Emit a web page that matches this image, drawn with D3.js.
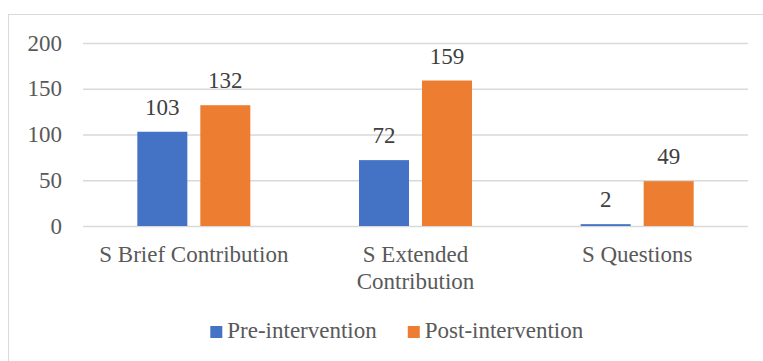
<!DOCTYPE html>
<html>
<head>
<meta charset="utf-8">
<script src="https://cdn.jsdelivr.net/npm/d3@7"></script>
<style>
  body { margin: 0; background: #fff; }
  svg text { fill: #595959; }
</style>
</head>
<body>
<script>
// chart data
const categories = ['S Brief Contribution', 'S Extended Contribution', 'S Questions'];
const seriesNames = ['Pre-intervention', 'Post-intervention'];
const preValues = [103, 72, 2];
const postValues = [132, 159, 49];
const yTicks = [0, 50, 100, 150, 200];
const colors = ['#4472C4', '#ED7D31'];

const width = 763, height = 361;
const plotLeft = 83, plotRight = 748, plotTop = 43, plotBottom = 226;
const fontSize = 23;
const serif = '"Liberation Serif", "Times New Roman", Times, Tinos, "Noto Serif", "Nimbus Roman", FreeSerif, "DejaVu Serif", serif';

const rows = categories.map((c, i) => ({ cat: c, values: [preValues[i], postValues[i]] }));

const svg = d3.select('body').append('svg')
    .attr('width', width)
    .attr('height', height)
    .attr('font-family', serif);

// chart area frame (right and bottom edges run off the picture)
svg.append('rect')
    .attr('x', 8.5).attr('y', 14.5)
    .attr('width', 800).attr('height', 400)
    .attr('fill', '#fff')
    .attr('stroke', '#d9d9d9')
    .attr('stroke-width', 1);

const x0 = d3.scaleBand().domain(categories).range([plotLeft, plotRight]).padding(0);
const groupW = 113;
const x1 = d3.scaleBand().domain(seriesNames)
    .range([(x0.bandwidth() - groupW) / 2, (x0.bandwidth() + groupW) / 2])
    .paddingInner(0.206);
const y = d3.scaleLinear().domain([0, 200]).range([plotBottom, plotTop]);

// gridlines + y labels
const yAxis = svg.append('g')
    .attr('transform', `translate(${plotLeft},0)`)
    .call(d3.axisLeft(y).tickValues(yTicks).tickSize(-(plotRight - plotLeft)).tickPadding(21))
    .attr('font-family', serif)
    .attr('font-size', fontSize);
yAxis.select('.domain').remove();
yAxis.selectAll('.tick line').attr('stroke', '#d9d9d9').attr('stroke-width', 1.5);
yAxis.selectAll('.tick text')
    .attr('dy', null)
    .attr('y', 7)
    .attr('fill', '#595959');

// bars
const groups = svg.append('g').selectAll('g')
    .data(rows)
    .join('g')
    .attr('transform', d => `translate(${x0(d.cat)},0)`);

groups.selectAll('rect')
    .data(d => d.values.map((v, i) => ({ key: seriesNames[i], value: v, i })))
    .join('rect')
    .attr('x', d => x1(d.key))
    .attr('y', d => y(d.value))
    .attr('width', x1.bandwidth())
    .attr('height', d => y(0) - y(d.value))
    .attr('fill', d => colors[d.i]);

groups.selectAll('text.value')
    .data(d => d.values.map((v, i) => ({ key: seriesNames[i], value: v })))
    .join('text')
    .attr('class', 'value')
    .attr('x', d => x1(d.key) + x1.bandwidth() / 2)
    .attr('y', d => y(d.value) - 17)
    .attr('text-anchor', 'middle')
    .attr('font-size', fontSize)
    .style('fill', '#404040')
    .text(d => d.value);

// category axis
const xAxis = svg.append('g')
    .attr('transform', `translate(0,${plotBottom})`)
    .call(d3.axisBottom(x0).tickSize(0))
    .attr('font-family', serif)
    .attr('font-size', fontSize);
xAxis.select('.domain').remove();
xAxis.selectAll('.tick text')
    .attr('y', 36)
    .attr('dy', null)
    .attr('fill', '#595959')
    .each(function (d) {
        const t = d3.select(this);
        const words = d.split(' ');
        const maxW = x0.bandwidth() - 10;
        t.text(null);
        let line = [];
        let lineNo = 0;
        let tspan = t.append('tspan').attr('x', 0).attr('y', 36);
        words.forEach(w => {
            line.push(w);
            tspan.text(line.join(' '));
            if (tspan.node().getComputedTextLength() > maxW && line.length > 1) {
                line.pop();
                tspan.text(line.join(' '));
                line = [w];
                lineNo++;
                tspan = t.append('tspan').attr('x', 0).attr('y', 36 + lineNo * 27).text(w);
            }
        });
    });

// legend
const legend = svg.append('g');
let lx = 0;
seriesNames.forEach((name, i) => {
    const item = legend.append('g').attr('transform', `translate(${lx},0)`);
    item.append('rect')
        .attr('x', 0).attr('y', -12)
        .attr('width', 12).attr('height', 12)
        .attr('fill', colors[i]);
    const txt = item.append('text')
        .attr('x', 17).attr('y', 0)
        .attr('font-size', fontSize)
        .text(name);
    lx += 17 + txt.node().getComputedTextLength() + 31;
});
const legW = legend.node().getBBox().width;
legend.attr('transform', `translate(${397 - legW / 2},338)`);
</script>
</body>
</html>
